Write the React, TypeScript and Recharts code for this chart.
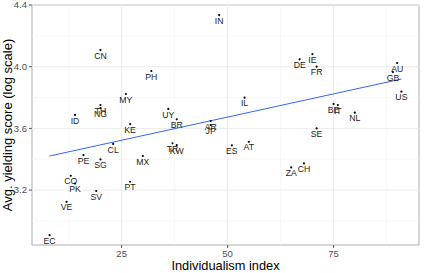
import React from 'react';
import { ScatterChart, Scatter, XAxis, YAxis, ReferenceLine, ReferenceArea, Label } from 'recharts';

const countries = ['IN','CN','PH','MY','TH','NG','ID','UY','KE','BR','AR','JP','IL','DE','IE','FR','AU','GB','US','BE','IT','NL','SE','CL','TR','KW','PE','SG','MX','CO','PK','PT','SV','VE','EC','ES','AT','ZA','CH'];
const individualism = [48,20,32,26,20,20,14,36,27,38,46,46,54,67,70,71,90,89,91,75,76,80,71,23,37,38,16,20,30,13,14,27,19,12,8,51,55,65,68];
const yielding = [4.335,4.108,3.972,3.823,3.751,3.732,3.687,3.726,3.628,3.659,3.648,3.622,3.799,4.048,4.082,4.0,4.024,3.965,3.838,3.758,3.751,3.702,3.600,3.499,3.503,3.492,3.427,3.399,3.421,3.293,3.242,3.254,3.194,3.124,2.908,3.490,3.513,3.347,3.373];

const fitX = [8, 91];
const fitY = [3.421, 3.92];

const xTicks = [25, 50, 75];
const xMinor = [12.5, 37.5, 62.5, 87.5];
const yTicks = [3.2, 3.6, 4.0, 4.4];
const yMinor = [3.0, 3.4, 3.8, 4.2];
const xDomain: [number, number] = [3.85, 95.15];
const yDomain: [number, number] = [2.844, 4.4];

const data = countries.map((code, i) => ({ code, x: individualism[i], y: yielding[i] }));

const FONT = '"Liberation Sans", Arial, Helvetica, sans-serif';

const PointShape = (props: any) => {
  const { cx, cy, payload } = props;
  return (
    <g>
      <circle cx={cx} cy={cy} r={1.1} fill="#000" stroke="none" />
      <text x={cx} y={cy + 8.6} textAnchor="middle" fontSize={8.7} fontFamily={FONT} fill="#1a1a1a" stroke="none">
        {payload.code}
      </text>
    </g>
  );
};

export default function App() {
  return (
    <div style={{ position: 'absolute', left: 0, top: 0, background: '#fff' }}>
      <ScatterChart width={424} height={273} margin={{ top: 5, right: 5, bottom: 0, left: 0 }}>
        {xMinor.map((v) => (
          <ReferenceLine key={'xm' + v} x={v} stroke="#F3F3F3" strokeWidth={0.6} />
        ))}
        {yMinor.map((v) => (
          <ReferenceLine key={'ym' + v} y={v} stroke="#F3F3F3" strokeWidth={0.6} />
        ))}
        {xTicks.map((v) => (
          <ReferenceLine key={'xM' + v} x={v} stroke="#EBEBEB" strokeWidth={1} />
        ))}
        {yTicks.map((v) => (
          <ReferenceLine key={'yM' + v} y={v} stroke="#EBEBEB" strokeWidth={1} />
        ))}
        <XAxis
          type="number"
          dataKey="x"
          domain={xDomain}
          ticks={xTicks}
          allowDataOverflow
          height={28}
          axisLine={false}
          tickSize={3}
          tickLine={{ stroke: '#555' }}
          tick={{ fill: '#4D4D4D', fontSize: 9.5, fontFamily: FONT }}
        >
          <Label
            content={(p: any) => {
              const vb = p.viewBox;
              return (
                <text x={vb.x + vb.width / 2} y={270} textAnchor="middle" fontSize={12.8} fontFamily={FONT} fill="#000">
                  Individualism index
                </text>
              );
            }}
          />
        </XAxis>
        <YAxis
          type="number"
          dataKey="y"
          domain={yDomain}
          ticks={yTicks}
          allowDataOverflow
          width={32}
          axisLine={false}
          tickSize={3}
          tickLine={{ stroke: '#555' }}
          tick={{ fill: '#4D4D4D', fontSize: 9.5, fontFamily: FONT }}
          tickFormatter={(v: number) => v.toFixed(1)}
        >
          <Label
            content={(p: any) => {
              const vb = p.viewBox;
              const cy = vb.y + vb.height / 2;
              return (
                <text x={12} y={cy} transform={`rotate(-90, 12, ${cy})`} textAnchor="middle" fontSize={13} fontFamily={FONT} fill="#000">
                  Avg. yielding score (log scale)
                </text>
              );
            }}
          />
        </YAxis>
        <ReferenceArea x1={xDomain[0]} x2={xDomain[1]} y1={yDomain[0]} y2={yDomain[1]} fill="none" stroke="#ADADAD" strokeWidth={1} ifOverflow="visible" />
        <Scatter data={data} shape={PointShape} isAnimationActive={false} />
        <ReferenceLine
          segment={[{ x: fitX[0], y: fitY[0] }, { x: fitX[1], y: fitY[1] }]}
          stroke="#3366FF"
          strokeWidth={1}
        />
      </ScatterChart>
    </div>
  );
}
